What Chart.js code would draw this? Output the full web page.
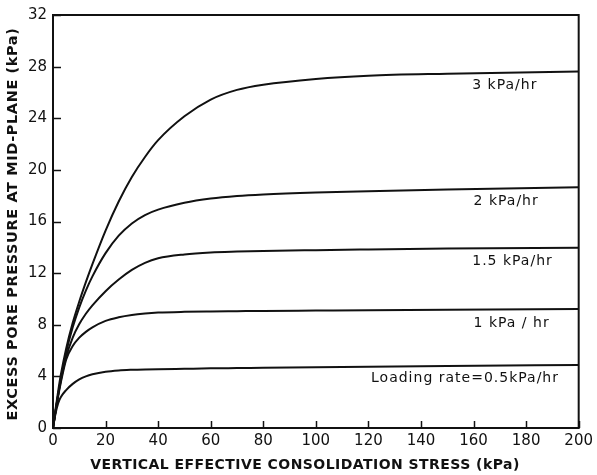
<!DOCTYPE html>
<html>
<head>
<meta charset="utf-8">
<script src="https://cdn.jsdelivr.net/npm/chart.js@4/dist/chart.umd.min.js"></script>
<style>
  html, body { margin: 0; padding: 0; background: #fff; }
  #wrap { width: 597px; height: 475px; }
</style>
</head>
<body>
<div id="wrap"><canvas id="c" width="597" height="475"></canvas></div>
<script>
// ---- data ----
const stress = [0, 1, 2, 3, 5, 7.5, 10, 12.5, 15, 20, 25, 30, 35, 40, 50, 60, 70, 80, 100, 120, 150, 200];
const rate3   = [0, 1.5, 2.9, 4.15, 6.15, 8.15, 9.8, 11.3, 12.7, 15.3, 17.55, 19.45, 21.0, 22.3, 24.15, 25.45, 26.2, 26.6, 27.05, 27.3, 27.45, 27.62];
const rate2   = [0, 1.35, 2.65, 3.85, 5.85, 7.8, 9.35, 10.65, 11.75, 13.55, 14.9, 15.85, 16.5, 16.92, 17.45, 17.78, 17.98, 18.1, 18.25, 18.35, 18.48, 18.65];
const rate15  = [0, 1.35, 2.6, 3.7, 5.5, 7.0, 8.05, 8.85, 9.5, 10.6, 11.5, 12.25, 12.8, 13.15, 13.45, 13.6, 13.67, 13.72, 13.78, 13.83, 13.9, 13.97];
const rate1   = [0, 1.3, 2.5, 3.55, 5.3, 6.35, 7.0, 7.45, 7.8, 8.3, 8.58, 8.76, 8.87, 8.94, 9.0, 9.03, 9.05, 9.07, 9.1, 9.13, 9.17, 9.23];
const rate05  = [0, 1.15, 1.95, 2.4, 2.94, 3.42, 3.77, 4.0, 4.16, 4.36, 4.46, 4.51, 4.54, 4.56, 4.59, 4.62, 4.64, 4.66, 4.7, 4.74, 4.8, 4.89];
const seriesLabels = ["3 kPa/hr", "2 kPa/hr", "1.5 kPa/hr", "1 kPa / hr", "Loading rate=0.5kPa/hr"];
const xTicks = [0, 20, 40, 60, 80, 100, 120, 140, 160, 180, 200];
const yTicks = [0, 4, 8, 12, 16, 20, 24, 28, 32];
const xTitle = "VERTICAL EFFECTIVE CONSOLIDATION STRESS (kPa)";
const yTitle = "EXCESS PORE PRESSURE AT MID-PLANE (kPa)";

// label anchors (data units): x start, y offset below curve end
const labelAnchors = [
  { x: 159.5, dy: -1.08 },
  { x: 160, dy: -1.1 },
  { x: 159.5, dy: -1.08 },
  { x: 160, dy: -1.1 },
  { x: 121, dy: -1.05 }
];

const allSeries = [rate3, rate2, rate15, rate1, rate05];
const INK = '#111';

const datasets = allSeries.map((vals, i) => ({
  label: seriesLabels[i],
  data: stress.map((x, k) => ({ x: x, y: vals[k] })),
  borderColor: INK,
  borderWidth: 2,
  pointRadius: 0,
  fill: false,
  cubicInterpolationMode: 'monotone'
}));

const framePlugin = {
  id: 'frame',
  afterDraw(chart) {
    const ctx = chart.ctx;
    const a = chart.chartArea;
    const xs = chart.scales.x, ys = chart.scales.y;
    ctx.save();
    ctx.strokeStyle = INK;
    ctx.lineWidth = 2;
    ctx.strokeRect(a.left, a.top, a.right - a.left, a.bottom - a.top);
    ctx.lineWidth = 1.5;
    // inward ticks
    xTicks.forEach(v => {
      const px = Math.round(xs.getPixelForValue(v)) + 0.5;
      ctx.beginPath(); ctx.moveTo(px, a.bottom); ctx.lineTo(px, a.bottom - 7); ctx.stroke();
    });
    yTicks.forEach(v => {
      const py = Math.round(ys.getPixelForValue(v)) + 0.5;
      ctx.beginPath(); ctx.moveTo(a.left, py); ctx.lineTo(a.left + 8, py); ctx.stroke();
    });
    // curve labels
    ctx.fillStyle = INK;
    ctx.font = '14px "DejaVu Sans"';
    ctx.letterSpacing = '1px';
    ctx.textBaseline = 'middle';
    ctx.textAlign = 'left';
    allSeries.forEach((vals, i) => {
      const endVal = vals[vals.length - 1];
      const la = labelAnchors[i];
      ctx.fillText(seriesLabels[i], xs.getPixelForValue(la.x), ys.getPixelForValue(endVal + la.dy));
    });
    // axis titles
    ctx.letterSpacing = '0.45px';
    ctx.font = 'bold 14px "DejaVu Sans"';
    ctx.textAlign = 'center';
    ctx.fillText(xTitle, 305, 465);
    ctx.save();
    ctx.translate(13, 224);
    ctx.rotate(-Math.PI / 2);
    ctx.letterSpacing = '0.6px';
    ctx.font = 'bold 14.5px "DejaVu Sans"';
    ctx.fillText(yTitle, 0, 0);
    ctx.restore();
    ctx.restore();
  }
};

new Chart(document.getElementById('c'), {
  type: 'line',
  data: { datasets },
  options: {
    responsive: false,
    animation: false,
    devicePixelRatio: 1,
    layout: { padding: { left: 0, right: 17, top: 11, bottom: 0 } },
    plugins: { legend: { display: false }, tooltip: { enabled: false } },
    scales: {
      x: {
        type: 'linear', min: 0, max: 200,
        afterBuildTicks: s => { s.ticks = xTicks.map(v => ({ value: v })); },
        afterFit: s => { s.height = 47; },
        grid: { display: false, drawTicks: false },
        border: { display: false },
        ticks: { color: INK, font: { family: 'DejaVu Sans', size: 15 }, padding: 4, maxRotation: 0, autoSkip: false },
        title: { display: false }
      },
      y: {
        type: 'linear', min: 0, max: 32,
        afterBuildTicks: s => { s.ticks = yTicks.map(v => ({ value: v })); },
        afterFit: s => { s.width = 53; },
        grid: { display: false, drawTicks: false },
        border: { display: false },
        ticks: { color: INK, font: { family: 'DejaVu Sans', size: 15 }, padding: 6, autoSkip: false },
        title: { display: false }
      }
    }
  },
  plugins: [framePlugin]
});
</script>
</body>
</html>
